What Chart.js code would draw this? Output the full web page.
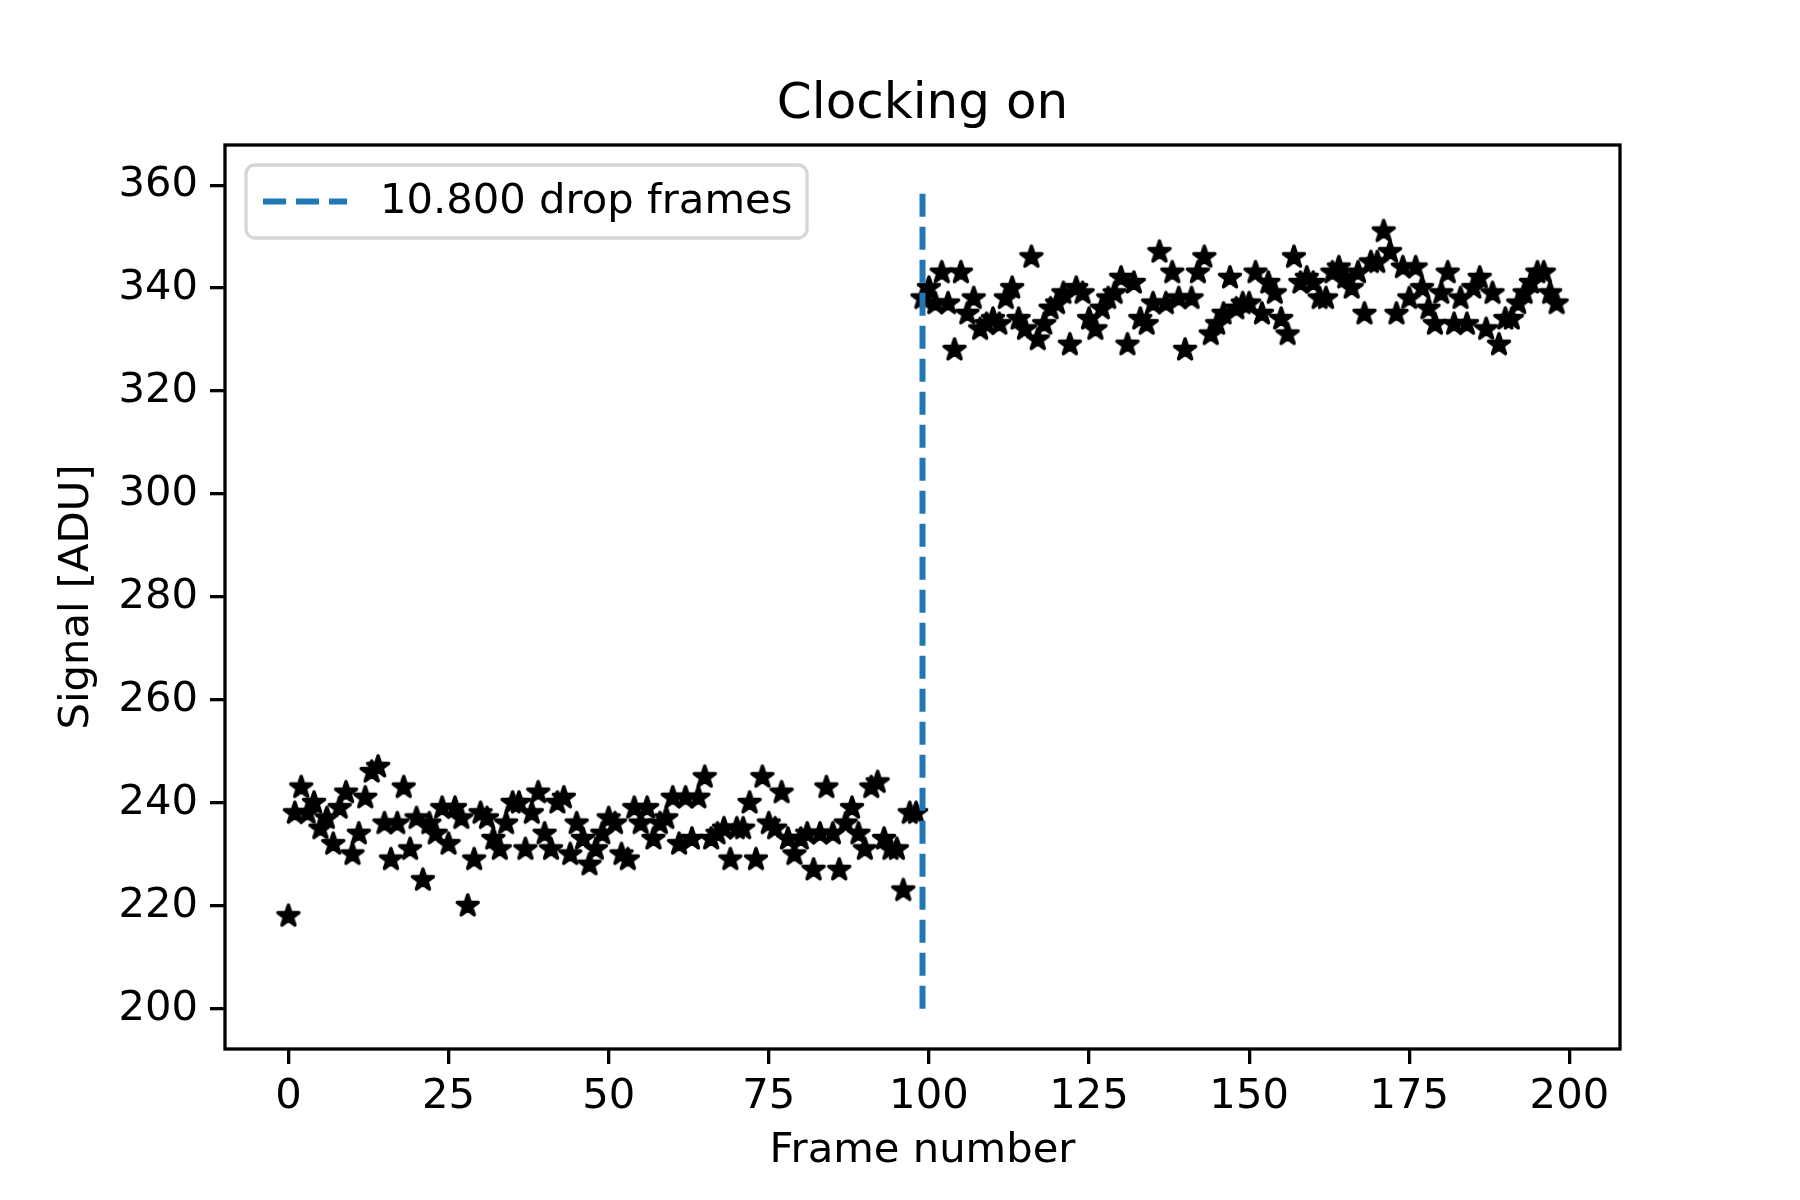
<!DOCTYPE html>
<html>
<head>
<meta charset="utf-8">
<script src="https://cdn.jsdelivr.net/npm/chart.js@4.4.1/dist/chart.umd.min.js"></script>
<style>
  body { margin: 0; background: #fff; }
  #chart { display: block; }
</style>
</head>
<body>
<canvas id="chart" width="1800" height="1200"></canvas>
<script>
// data (frame number = index)
const signal = [
  218, 238, 243, 238, 240, 235, 237, 232, 239, 242,
  230, 234, 241, 246, 247, 236, 229, 236, 243, 231,
  237, 225, 236, 234, 239, 232, 239, 237, 220, 229,
  238, 237, 233, 231, 236, 240, 240, 231, 238, 242,
  234, 231, 240, 241, 230, 236, 233, 228, 231, 234,
  237, 236, 230, 229, 239, 236, 239, 233, 236, 237,
  241, 232, 241, 233, 241, 245, 233, 234, 235, 229,
  235, 235, 240, 229, 245, 236, 235, 242, 233, 230,
  233, 234, 227, 234, 243, 234, 227, 236, 239, 234,
  231, 243, 244, 233, 231, 231, 223, 238, 238,
  338, 340, 337, 343, 337, 328, 343, 335, 338, 332,
  333, 334, 333, 338, 340, 334, 332, 346, 330, 333,
  336, 337, 339, 329, 340, 339, 334, 332, 336, 338,
  339, 342, 329, 341, 334, 333, 337, 347, 337, 343,
  338, 328, 338, 343, 346, 331, 333, 335, 342, 336,
  337, 337, 343, 335, 341, 339, 334, 331, 346, 341,
  342, 341, 338, 338, 343, 344, 342, 340, 343, 335,
  345, 345, 351, 347, 335, 344, 338, 344, 340, 336,
  333, 339, 343, 333, 338, 333, 340, 342, 332, 339,
  329, 334, 334, 337, 339, 341, 343, 343, 339, 337
];
const dropFrame = 99;
const dropRange = [200, 360];
const dropLabel = '10.800 drop frames';
const titleText = 'Clocking on';
const xTicks = [0, 25, 50, 75, 100, 125, 150, 175, 200];
const yTicks = [200, 220, 240, 260, 280, 300, 320, 340, 360];

const FONT = '"DejaVu Sans", sans-serif';

// matplotlib-like filled star marker
function makeStar() {
  const c = document.createElement('canvas');
  c.width = 32; c.height = 32;
  const g = c.getContext('2d');
  const R = 11, r = R * 0.382;
  g.beginPath();
  for (let i = 0; i < 10; i++) {
    const a = -Math.PI / 2 + i * Math.PI / 5;
    const rad = i % 2 === 0 ? R : r;
    const px = 16 + rad * Math.cos(a), py = 16 + rad * Math.sin(a);
    if (i === 0) g.moveTo(px, py); else g.lineTo(px, py);
  }
  g.closePath();
  g.fillStyle = '#000';
  g.fill();
  g.lineWidth = 3.5;
  g.lineJoin = 'round';
  g.strokeStyle = '#000';
  g.stroke();
  return c;
}
const starImg = makeStar();

// frame, title and legend box drawn like matplotlib
const framePlugin = {
  id: 'frame',
  afterDatasetsDraw(chart) {
    const {ctx, chartArea: a} = chart;
    ctx.save();
    ctx.strokeStyle = '#000';
    ctx.lineWidth = 3.3;
    ctx.strokeRect(a.left, a.top, a.right - a.left, a.bottom - a.top);

    // title centred over the axes
    ctx.fillStyle = '#000';
    ctx.font = '50px ' + FONT;
    ctx.textAlign = 'center';
    ctx.textBaseline = 'alphabetic';
    ctx.fillText(titleText, (a.left + a.right) / 2, 118);

    // legend
    const lx = 246, ly = 165, lw = 561, lh = 73;
    ctx.beginPath();
    ctx.roundRect(lx, ly, lw, lh, 9);
    ctx.fillStyle = 'rgba(255,255,255,0.8)';
    ctx.fill();
    ctx.strokeStyle = '#d6d6d6';
    ctx.lineWidth = 3.3;
    ctx.stroke();
    ctx.beginPath();
    ctx.setLineDash([23, 10]);
    ctx.strokeStyle = '#1f77b4';
    ctx.lineWidth = 6;
    ctx.moveTo(263, ly + lh / 2);
    ctx.lineTo(347, ly + lh / 2);
    ctx.stroke();
    ctx.setLineDash([]);
    ctx.fillStyle = '#000';
    ctx.font = '41.7px ' + FONT;
    ctx.textAlign = 'left';
    ctx.textBaseline = 'middle';
    ctx.fillText(chart.data.datasets[0].label, 380, ly + lh / 2 + 1);
    ctx.restore();
  }
};

new Chart(document.getElementById('chart').getContext('2d'), {
  type: 'scatter',
  data: {
    datasets: [
      {
        label: dropLabel,
        type: 'line',
        data: dropRange.map(v => ({x: dropFrame, y: v})),
        borderColor: '#1f77b4',
        borderWidth: 6,
        borderDash: [23, 10],
        pointRadius: 0,
        fill: false,
        order: 0
      },
      {
        label: 'signal',
        data: signal.map((v, i) => ({x: i, y: v})),
        pointStyle: starImg,
        pointRadius: 12,
        order: 1
      }
    ]
  },
  options: {
    responsive: false,
    animation: false,
    layout: { padding: { left: 0, right: 180, top: 145, bottom: 0 } },
    scales: {
      x: {
        type: 'linear',
        min: -9.9,
        max: 207.9,
        afterBuildTicks: s => { s.ticks = xTicks.map(v => ({value: v})); },
        afterFit: s => { s.height = 151; },
        grid: { display: true, drawOnChartArea: false, drawTicks: true, tickLength: 15, color: '#000', lineWidth: 3.3 },
        border: { display: false },
        ticks: { color: '#000', font: { family: FONT, size: 41.7 }, padding: 8, maxRotation: 0 },
        title: { display: true, text: 'Frame number', color: '#000', font: { family: FONT, size: 41.7 }, padding: { top: 0, bottom: 24 } }
      },
      y: {
        type: 'linear',
        min: 192.2,
        max: 367.8,
        afterBuildTicks: s => { s.ticks = yTicks.map(v => ({value: v})); },
        afterFit: s => { s.width = 225; },
        grid: { display: true, drawOnChartArea: false, drawTicks: true, tickLength: 15, color: '#000', lineWidth: 3.3 },
        border: { display: false },
        ticks: { color: '#000', font: { family: FONT, size: 41.7 }, padding: 12 },
        title: { display: true, text: 'Signal [ADU]', color: '#000', font: { family: FONT, size: 41.7 }, padding: { top: 52, bottom: 0 } }
      }
    },
    plugins: {
      legend: { display: false },
      tooltip: { enabled: false },
      title: { display: false }
    }
  },
  plugins: [framePlugin]
});
</script>
</body>
</html>
